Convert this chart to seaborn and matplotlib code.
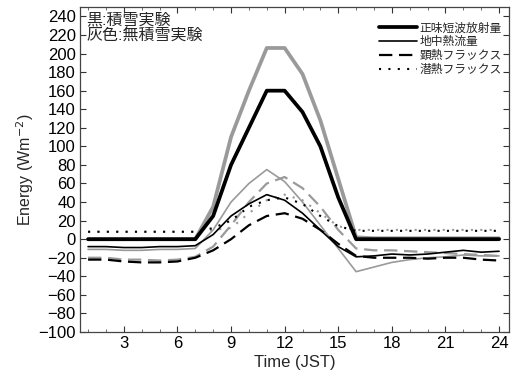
import numpy as np
import pandas as pd
import matplotlib
matplotlib.use("Agg")
import matplotlib.pyplot as plt
import seaborn as sns

# -----------------------------
# Data (hourly, JST)
# -----------------------------
HOURS = list(range(1, 25))

# snow experiment (black)
SW_SNOW = [0, 0, 0, 0, 0, 0, 0, 25, 80, 120, 160, 160, 137, 100, 45, 0,
           0, 0, 0, 0, 0, 0, 0, 0]
G_SNOW = [-8, -8, -9, -9, -8, -8, -7, 5, 25, 38, 48, 42, 28, 10, -8, -19,
          -18, -16, -17, -16, -14, -12, -14, -13]
H_SNOW = [-22, -22, -24, -25, -25, -24, -20, -12, 0, 15, 25, 28, 22, 10, -5, -18,
          -20, -20, -20, -21, -20, -20, -22, -23]
LE_SNOW = [8, 8, 8, 8, 8, 8, 8, 12, 20, 35, 42, 45, 38, 25, 14, 9,
           9, 9, 9, 9, 9, 9, 9, 9]

# no-snow experiment (gray)
SW_NOSNOW = [0, 0, 0, 0, 0, 0, 0, 35, 110, 160, 206, 206, 178, 128, 65, 2,
             1, 1, 1, 1, 1, 1, 1, 1]
G_NOSNOW = [-11, -11, -12, -12, -11, -11, -10, 10, 40, 60, 75, 62, 40, 15, -10, -35,
            -30, -25, -22, -20, -19, -17, -18, -18]
H_NOSNOW = [-20, -20, -22, -22, -23, -22, -19, -8, 15, 40, 60, 67, 55, 35, 10, -10,
            -12, -12, -13, -14, -15, -16, -17, -18]
LE_NOSNOW = [8, 8, 8, 8, 8, 8, 8, 10, 12, 28, 42, 48, 42, 28, 14, 10,
             10, 10, 10, 10, 10, 10, 10, 10]

LABELS = ["正味短波放射量", "地中熱流量", "顕熱フラックス", "潜熱フラックス"]

GRAY = "#9a9a9a"
STYLES = [
    dict(lw=2.7, ls="-"),
    dict(lw=1.2, ls="-"),
    dict(lw=1.6, ls=(0, (6, 3))),
    dict(lw=1.5, ls=(0, (1, 3.5))),
]


def main():
    sns.set_style("ticks")
    plt.rcParams["font.family"] = ["Liberation Sans", "Noto Sans CJK JP"]
    plt.rcParams["axes.unicode_minus"] = True

    fig, ax = plt.subplots(figsize=(5.13, 3.76), dpi=100)
    fig.subplots_adjust(left=0.156, right=0.992, top=0.981, bottom=0.117)

    gray_series = [SW_NOSNOW, G_NOSNOW, H_NOSNOW, LE_NOSNOW]
    black_series = [SW_SNOW, G_SNOW, H_SNOW, LE_SNOW]

    for vals, st in zip(gray_series, STYLES):
        df = pd.DataFrame({"hour": HOURS, "val": vals})
        sns.lineplot(data=df, x="hour", y="val", ax=ax, color=GRAY,
                     linewidth=st["lw"], linestyle=st["ls"], label="_nolegend_")

    for vals, st, lab in zip(black_series, STYLES, LABELS):
        df = pd.DataFrame({"hour": HOURS, "val": vals})
        sns.lineplot(data=df, x="hour", y="val", ax=ax, color="black",
                     linewidth=st["lw"], linestyle=st["ls"], label=lab)

    ax.set_xlim(0.55, 24.55)
    ax.set_ylim(-100, 250)
    ax.set_xticks(np.arange(3, 25, 3))
    ax.set_xticks(np.arange(1, 25, 1), minor=True)
    ax.set_yticks(np.arange(-100, 241, 20))
    ax.tick_params(axis="both", which="major", direction="in", length=4,
                   top=True, right=True, labelsize=12, width=0.8, colors="#333333",
                   labelcolor="black", pad=3)
    ax.tick_params(axis="x", which="minor", direction="in", length=2,
                   top=True, width=0.6, colors="#555555")
    for sp in ax.spines.values():
        sp.set_linewidth(0.9)
        sp.set_color("#444444")

    ax.set_xlabel("Time (JST)", fontsize=12, labelpad=3)
    ax.set_ylabel("Energy (Wm$^{-2}$)", fontsize=11.5, labelpad=2)

    ax.text(0.014, 0.985, "黒:積雪実験\n灰色:無積雪実験", transform=ax.transAxes,
            ha="left", va="top", fontsize=11.5, linespacing=1.1)

    ax.legend(loc="upper right", bbox_to_anchor=(1.0, 0.975), frameon=False,
              fontsize=8.5, handlelength=3.2, handletextpad=0.2,
              labelspacing=0.15, borderaxespad=0.2)

    plt.savefig("out.png", dpi=100)
    plt.close()


if __name__ == "__main__":
    main()
